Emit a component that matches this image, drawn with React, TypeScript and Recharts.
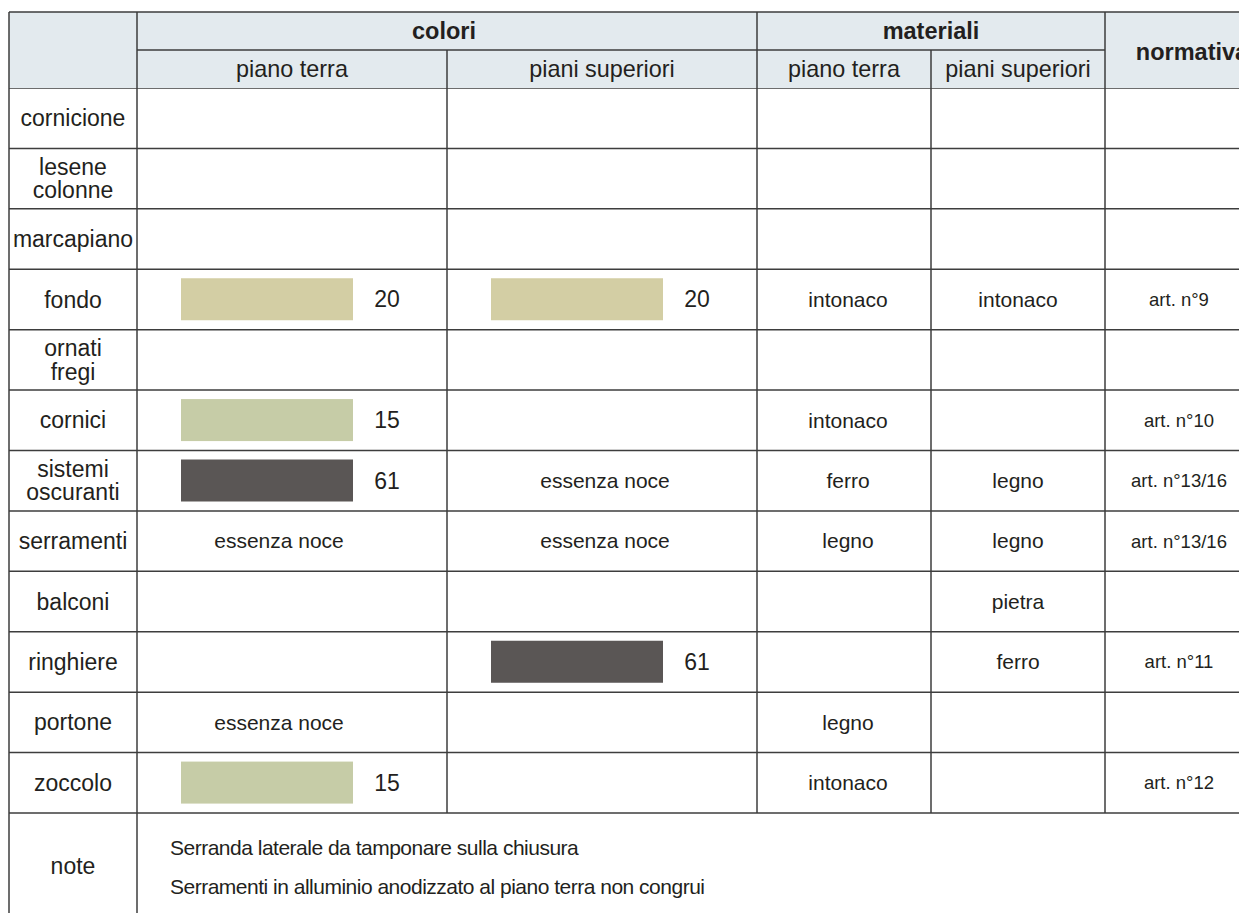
import React from 'react';
import { BarChart, Bar, XAxis, YAxis, CartesianGrid } from 'recharts';

// righe della scheda (ordine dall'alto)
const elementi = [
  'cornicione',
  'lesene\ncolonne',
  'marcapiano',
  'fondo',
  'ornati\nfregi',
  'cornici',
  'sistemi\noscuranti',
  'serramenti',
  'balconi',
  'ringhiere',
  'portone',
  'zoccolo',
];

// codice colore (campione) per piano terra e piani superiori
const coloreTerraCodice = [null, null, null, 20, null, 15, 61, null, null, null, null, 15];
const coloreSuperioriCodice = [null, null, null, 20, null, null, null, null, null, 61, null, null];

const coloreTerraTesto = ['', '', '', '', '', '', '', 'essenza noce', '', '', 'essenza noce', ''];
const coloreSuperioriTesto = ['', '', '', '', '', '', 'essenza noce', 'essenza noce', '', '', '', ''];

const materialeTerra = ['', '', '', 'intonaco', '', 'intonaco', 'ferro', 'legno', '', '', 'legno', 'intonaco'];
const materialeSuperiori = ['', '', '', 'intonaco', '', '', 'legno', 'legno', 'pietra', 'ferro', '', ''];

const normativa = ['', '', '', 'art. n°9', '', 'art. n°10', 'art. n°13/16', 'art. n°13/16', '', 'art. n°11', '', 'art. n°12'];

const note = [
  'Serranda laterale da tamponare sulla chiusura',
  'Serramenti in alluminio anodizzato al piano terra non congrui',
];

const paletta: Record<number, string> = { 20: '#d3cea4', 15: '#c6cca7', 61: '#5a5655' };

const righe = elementi.map((elemento, i) => ({
  elemento,
  terra: coloreTerraCodice[i],
  superiori: coloreSuperioriCodice[i],
}));

const W = 1239;
const H = 905;
const HEAD_TOP = 4;
const HEAD_MID = 42;
const HEAD_BOT = 80;
const ROWS_BOT = 805;
const LEFT = 1;
const COLS = [129, 439, 749, 923, 1097];
const LINE = '#3d3d3d';
const INK = '#231f20';
const FONT = '"Liberation Sans", Arial, Helvetica, sans-serif';

function Lines({ x, y, text, size }: { x: number; y: number; text: string; size: number }) {
  const parts = text.split('\n');
  const step = size * 1.02;
  return (
    <text x={x} textAnchor="middle" fontSize={size} fontFamily={FONT} fill={INK}>
      {parts.map((p, k) => (
        <tspan key={k} x={x} y={y + (k - (parts.length - 1) / 2) * step} dy="0.35em">
          {p}
        </tspan>
      ))}
    </text>
  );
}

function RigaTick(props: any) {
  const { y, payload } = props;
  const i = elementi.indexOf(payload.value);
  if (i < 0) return null;
  return (
    <g>
      <Lines x={65} y={y} text={elementi[i]} size={23} />
      {coloreTerraTesto[i] && <Lines x={271} y={y} text={coloreTerraTesto[i]} size={21} />}
      {coloreSuperioriTesto[i] && <Lines x={597} y={y} text={coloreSuperioriTesto[i]} size={21} />}
      {materialeTerra[i] && <Lines x={840} y={y} text={materialeTerra[i]} size={21} />}
      {materialeSuperiori[i] && <Lines x={1010} y={y} text={materialeSuperiori[i]} size={21} />}
      {normativa[i] && <Lines x={1171} y={y} text={normativa[i]} size={18.5} />}
    </g>
  );
}

function campione(colLeft: number, campo: 'terra' | 'superiori') {
  return (props: any) => {
    const { y, height, payload } = props;
    const key = payload ? payload[campo] : null;
    if (key == null) return <g />;
    return (
      <g>
        <rect x={colLeft + 44} y={y} width={172} height={height} fill={paletta[key]} />
        <text
          x={colLeft + 250}
          y={y + height / 2}
          dy="0.35em"
          textAnchor="middle"
          fontSize={23}
          fontFamily={FONT}
          fill={INK}
        >
          {key}
        </text>
      </g>
    );
  };
}

function Cornice() {
  const s = { stroke: LINE, strokeWidth: 1.5 };
  return (
    <g>
      <rect x={LEFT} y={HEAD_TOP} width={W - LEFT} height={HEAD_BOT - HEAD_TOP} fill="#e3eaee" />
      <line x1={LEFT} x2={W} y1={HEAD_TOP} y2={HEAD_TOP} {...s} />
      <line x1={COLS[0]} x2={COLS[4]} y1={HEAD_MID} y2={HEAD_MID} {...s} />
      <line x1={LEFT} x2={LEFT} y1={HEAD_TOP} y2={H} {...s} />
      <line x1={COLS[0]} x2={COLS[0]} y1={HEAD_TOP} y2={HEAD_BOT} {...s} />
      <line x1={COLS[0]} x2={COLS[0]} y1={ROWS_BOT} y2={H} {...s} />
      <line x1={COLS[1]} x2={COLS[1]} y1={HEAD_MID} y2={HEAD_BOT} {...s} />
      <line x1={COLS[2]} x2={COLS[2]} y1={HEAD_TOP} y2={HEAD_BOT} {...s} />
      <line x1={COLS[3]} x2={COLS[3]} y1={HEAD_MID} y2={HEAD_BOT} {...s} />
      <line x1={COLS[4]} x2={COLS[4]} y1={HEAD_TOP} y2={HEAD_BOT} {...s} />
      <g fontFamily={FONT} fill={INK} textAnchor="middle">
        <text x={436} y={23} dy="0.35em" fontSize={23.5} fontWeight="bold">colori</text>
        <text x={923} y={23} dy="0.35em" fontSize={23.5} fontWeight="bold">materiali</text>
        <text x={1184} y={44} dy="0.35em" fontSize={23.5} fontWeight="bold">normativa</text>
        <text x={284} y={61} dy="0.35em" fontSize={23.4}>piano terra</text>
        <text x={594} y={61} dy="0.35em" fontSize={23.4}>piani superiori</text>
        <text x={836} y={61} dy="0.35em" fontSize={23.4}>piano terra</text>
        <text x={1010} y={61} dy="0.35em" fontSize={23.4}>piani superiori</text>
        <text x={65} y={858} dy="0.35em" fontSize={23}>note</text>
      </g>
      {note.map((t, k) => (
        <text
          key={k}
          x={162}
          y={840 + k * 39}
          dy="0.35em"
          fontSize={21}
          letterSpacing={-0.5}
          fontFamily={FONT}
          fill={INK}
        >
          {t}
        </text>
      ))}
    </g>
  );
}

export default function App() {
  return (
    <BarChart
      width={W}
      height={H}
      data={righe}
      layout="vertical"
      margin={{ top: HEAD_BOT, right: 0, bottom: H - ROWS_BOT, left: LEFT }}
      barCategoryGap={0}
    >
      <CartesianGrid
        stroke={LINE}
        strokeWidth={1.5}
        horizontalCoordinatesGenerator={({ offset }: any) =>
          Array.from({ length: elementi.length + 1 }, (_, k) => offset.top + (k * offset.height) / elementi.length)
        }
        verticalCoordinatesGenerator={() => COLS}
      />
      <XAxis type="number" hide domain={[0, 200]} />
      <YAxis
        type="category"
        dataKey="elemento"
        mirror
        axisLine={false}
        tickLine={false}
        interval={0}
        tick={<RigaTick />}
      />
      <Bar dataKey="terra" stackId="c" barSize={42} isAnimationActive={false} shape={campione(COLS[0], 'terra')} />
      <Bar dataKey="superiori" stackId="c" barSize={42} isAnimationActive={false} shape={campione(COLS[1], 'superiori')} />
      <Cornice />
    </BarChart>
  );
}
